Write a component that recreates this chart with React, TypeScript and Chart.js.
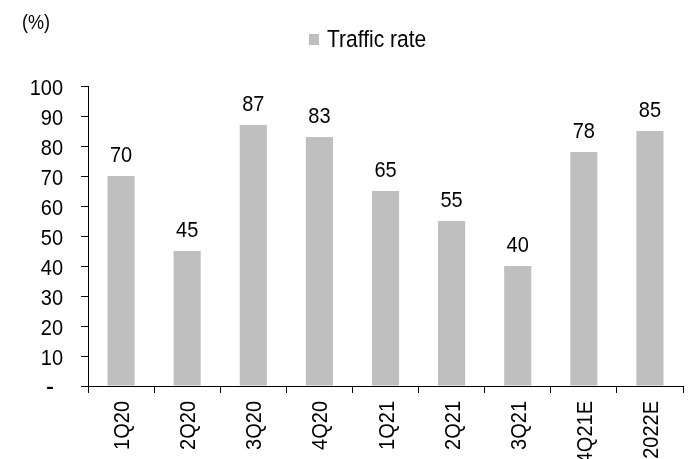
import React, { useEffect, useRef } from "react";
import { Chart, registerables } from "chart.js";

Chart.register(...registerables);

const categories = ["1Q20", "2Q20", "3Q20", "4Q20", "1Q21", "2Q21", "3Q21", "4Q21E", "2022E"];
const trafficRate = [70, 45, 87, 83, 65, 55, 40, 78, 85];
const yTickValues = [0, 10, 20, 30, 40, 50, 60, 70, 80, 90, 100];
const yTickLabels = ["-", "10", "20", "30", "40", "50", "60", "70", "80", "90", "100"];
const seriesName = "Traffic rate";
const unitLabel = "(%)";

const FONT = "'Liberation Sans', Arial, sans-serif";
const FS = 20;
const STRETCH = 1.13;
const BAR = "#bfbfbf";

function drawText(
  ctx: CanvasRenderingContext2D,
  text: string,
  x: number,
  y: number,
  size: number,
  align: CanvasTextAlign,
  rotate = false
) {
  ctx.save();
  ctx.translate(x, y);
  if (rotate) ctx.rotate(-Math.PI / 2);
  ctx.scale(1, STRETCH);
  ctx.font = `${size}px ${FONT}`;
  ctx.textAlign = align;
  ctx.textBaseline = "alphabetic";
  ctx.fillStyle = "#000";
  ctx.fillText(text, 0, 0);
  ctx.restore();
}

const overlay = {
  id: "overlay",
  afterDraw(chart: any) {
    const ctx = chart.ctx as CanvasRenderingContext2D;
    const xs = chart.scales.x;
    const ys = chart.scales.y;
    const meta = chart.getDatasetMeta(0);
    // data labels
    meta.data.forEach((el: any, i: number) => {
      drawText(ctx, String(trafficRate[i]), el.x, el.y - 14, FS, "center");
    });
    // y tick labels
    yTickValues.forEach((v, i) => {
      const py = ys.getPixelForValue(v);
      const lbl = yTickLabels[i];
      const rx = lbl === "-" ? 54 : 63;
      drawText(ctx, lbl, rx, py + 9, lbl === "-" ? FS + 4 : FS, "right");
    });
    // x tick labels (rotated)
    const capHalf = (FS * 0.716 * STRETCH) / 2;
    categories.forEach((c, i) => {
      const px = xs.getPixelForValue(i);
      drawText(ctx, c, px + capHalf, 401, FS, "right", true);
    });
    // unit label
    drawText(ctx, unitLabel, 22, 29, 18, "left");
    // legend
    ctx.save();
    ctx.fillStyle = BAR;
    ctx.fillRect(309, 34, 10, 11);
    ctx.restore();
    drawText(ctx, seriesName, 327, 47, 21, "left");
  },
};

export default function App() {
  const ref = useRef<HTMLCanvasElement | null>(null);
  useEffect(() => {
    if (!ref.current) return;
    const chart = new Chart(ref.current, {
      type: "bar",
      data: {
        labels: categories,
        datasets: [
          {
            label: seriesName,
            data: trafficRate,
            backgroundColor: BAR,
            barPercentage: 0.41,
            categoryPercentage: 1,
          },
        ],
      },
      options: {
        animation: false,
        responsive: false,
        maintainAspectRatio: false,
        layout: { padding: { top: 86, right: 11, left: 0, bottom: 0 } },
        plugins: { legend: { display: false }, tooltip: { enabled: false } },
        scales: {
          x: {
            grid: { display: true, drawOnChartArea: false, tickLength: 7, color: "#000", offset: true },
            border: { display: true, color: "#000", width: 1 },
            ticks: {
              color: "rgba(0,0,0,0)",
              font: { family: FONT, size: 12 },
              autoSkip: false,
              maxRotation: 0,
            },
            afterFit(scale: any) {
              scale.height = 73;
            },
          },
          y: {
            min: 0,
            max: 100,
            grid: { display: true, drawOnChartArea: false, tickLength: 7, color: "#000" },
            border: { display: true, color: "#000", width: 1 },
            ticks: {
              stepSize: 10,
              autoSkip: false,
              color: "rgba(0,0,0,0)",
              font: { family: FONT, size: 12 },
            },
            afterFit(scale: any) {
              scale.width = 88;
            },
          },
        },
      },
      plugins: [overlay],
    });
    return () => chart.destroy();
  }, []);
  return (
    <div style={{ position: "fixed", left: 0, top: 0, width: 694, height: 459, background: "#fff" }}>
      <canvas ref={ref} width={694} height={459} style={{ width: 694, height: 459 }} />
    </div>
  );
}
